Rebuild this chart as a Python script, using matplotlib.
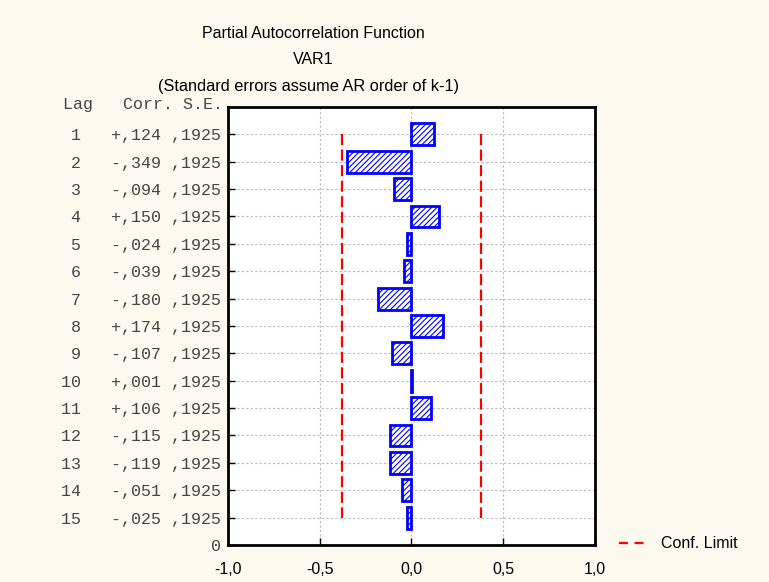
import matplotlib.pyplot as plt
from matplotlib.lines import Line2D
import numpy as np

plt.rcParams["hatch.color"] = "blue"
plt.rcParams["hatch.linewidth"] = 0.8

lags = list(range(1, 16))
pacf = [0.124, -0.349, -0.094, 0.150, -0.024, -0.039, -0.180, 0.174,
        -0.107, 0.001, 0.106, -0.115, -0.119, -0.051, -0.025]
std_err = 0.1925
conf_limit = 1.96 * std_err
x_ticks = [-1.0, -0.5, 0.0, 0.5, 1.0]
x_tick_labels = ["-1,0", "-0,5", "0,0", "0,5", "1,0"]

bg = "#fdf9ee"
fig = plt.figure(figsize=(7.69, 5.82), dpi=100, facecolor=bg)
ax = fig.add_axes([0.2965, 0.0636, 0.4772, 0.7526])
ax.set_facecolor("white")

# lag 1 sits at the top, lag 15 just above the zero line
ypos = [16 - k for k in lags]

ax.barh(ypos, pacf, height=0.8, left=0, color="white", edgecolor="blue",
        linewidth=2, hatch="//////", zorder=3)

for xc in (-conf_limit, conf_limit):
    ax.plot([xc, xc], [ypos[0], ypos[-1]], color="red",
            linestyle=(0, (5, 2)), linewidth=1.6, zorder=4)

ax.set_xlim(-1, 1)
ax.set_ylim(0, 16)
ax.set_xticks(x_ticks)
ax.set_xticklabels(x_tick_labels, fontsize=11.5, family="Liberation Sans")

row_labels = [f"{k:>2}   {'+' if v >= 0 else '-'},{abs(v) * 1000:03.0f} ,{std_err * 1e4:.0f}"
              for k, v in zip(lags, pacf)]
ax.set_yticks([0] + ypos)
ax.set_yticklabels(["0"] + row_labels, fontsize=12, family="Liberation Mono",
                   color="#444444")

ax.tick_params(direction="in", length=5, width=1)
ax.tick_params(axis="y", pad=5)
ax.tick_params(axis="x", pad=12)
ax.grid(True, color="#bbbbbb", linestyle=(0, (2, 2)), linewidth=0.8, zorder=0)
for s in ax.spines.values():
    s.set_linewidth(2)

fig.text(223 / 769, 1 - 105 / 582, "Lag   Corr. S.E.", ha="right", va="center",
         fontsize=12, family="Liberation Mono", color="#444444")

fig.text(313 / 769, 1 - 33 / 582, "Partial Autocorrelation Function",
         ha="center", va="center", fontsize=11.5, family="Liberation Sans")
fig.text(313 / 769, 1 - 60 / 582, "VAR1", ha="center", va="center",
         fontsize=11.5, family="Liberation Sans")
fig.text(308 / 769, 1 - 87 / 582, "(Standard errors assume AR order of k-1)",
         ha="center", va="center", fontsize=11.8, family="Liberation Sans")

handle = Line2D([], [], color="red", linestyle=(0, (4, 3)), linewidth=1.6)
fig.legend([handle], ["Conf. Limit"], loc="center left",
           bbox_to_anchor=(605 / 769, 1 - 544 / 582), frameon=False,
           prop={"family": "Liberation Sans", "size": 11.5}, handlelength=1.8)

fig.savefig("out.png", dpi=100, facecolor=bg)
